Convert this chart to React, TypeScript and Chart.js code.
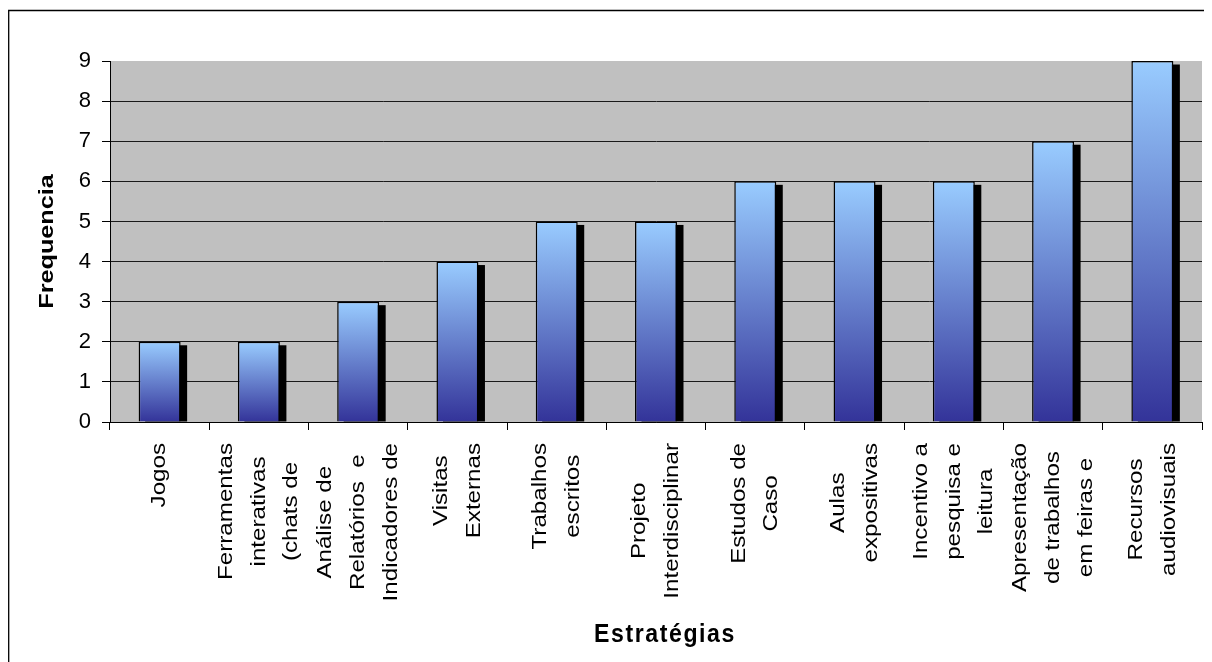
import React, { useEffect, useRef } from "react";
import { Chart, registerables } from "chart.js";

Chart.register(...registerables);

// ---- data ----
const categories: string[][] = [
  ["Jogos"],
  ["Ferramentas", "interativas", "(chats de"],
  ["Análise de", "Relatórios  e", "Indicadores de"],
  ["Visitas", "Externas"],
  ["Trabalhos", "escritos"],
  ["Projeto", "Interdisciplinar"],
  ["Estudos de", "Caso"],
  ["Aulas", "expositivas"],
  ["Incentivo a", "pesquisa e", "leitura"],
  ["Apresentação", "de trabalhos", "em feiras e"],
  ["Recursos", "audiovisuais"],
];
const frequencies: number[] = [2, 2, 3, 4, 5, 5, 6, 6, 6, 7, 9];
const yMin = 0;
const yMax = 9;
const yStep = 1;
const yTitle = "Frequencia";
const xTitle = "Estratégias";

// ---- layout / style ----
const W = 1204;
const H = 654;
const FONT = '"Liberation Sans", Arial, Helvetica, sans-serif';
const STRETCH = 1.15;
const LABEL_TOP = 435;
const LINE_GAP = 32.7;

const decorPlugin = {
  id: "excelDecor",
  beforeDraw(chart: any) {
    const { ctx, chartArea } = chart;
    const { left, top, right, bottom } = chartArea;
    ctx.save();
    ctx.fillStyle = "#ffffff";
    ctx.fillRect(0, 0, W, H);
    ctx.fillStyle = "#C0C0C0";
    ctx.fillRect(left, top, right - left, bottom - top);
    ctx.restore();
  },
  beforeDatasetsDraw(chart: any) {
    const { ctx } = chart;
    const meta = chart.getDatasetMeta(0);
    ctx.save();
    ctx.fillStyle = "#000000";
    meta.data.forEach((el: any) => {
      const { x, y, base, width } = el.getProps(["x", "y", "base", "width"], true);
      ctx.fillRect(x - width / 2 + 6.5, y + 3.5, width, base - y - 3.5);
    });
    ctx.restore();
  },
  afterDraw(chart: any) {
    const { ctx, chartArea } = chart;
    const xs = chart.scales.x;
    ctx.save();
    // clean the area right of the plot
    ctx.fillStyle = "#ffffff";
    ctx.fillRect(chartArea.right + 1, 0, W, chartArea.top);
    ctx.fillRect(chartArea.right + 1, chartArea.top - 1, W, H);
    ctx.fillRect(chartArea.right + 1, 0, W, H);
    // outer border (left + top only are visible)
    ctx.strokeStyle = "#000000";
    ctx.lineWidth = 1.3;
    ctx.beginPath();
    ctx.moveTo(0.7, H + 10);
    ctx.lineTo(0.7, 2.5);
    ctx.lineTo(W + 10, 2.5);
    ctx.stroke();
    // x tick at right edge of the axis
    ctx.strokeStyle = "#000000";
    ctx.lineWidth = 1;
    ctx.beginPath();
    ctx.moveTo(Math.round(chartArea.right) + 0.5, chartArea.bottom);
    ctx.lineTo(Math.round(chartArea.right) + 0.5, chartArea.bottom + 8);
    ctx.stroke();

    ctx.fillStyle = "#000000";
    // category labels
    ctx.font = `21px ${FONT}`;
    ctx.textAlign = "center";
    ctx.textBaseline = "middle";
    categories.forEach((lines, i) => {
      const cx = xs.getPixelForValue(i);
      const widths = lines.map((l) => ctx.measureText(l).width * STRETCH);
      const maxW = Math.max(...widths);
      lines.forEach((line, j) => {
        const lx = cx + (j - (lines.length - 1) / 2) * LINE_GAP;
        const ly = LABEL_TOP + maxW / 2;
        ctx.save();
        ctx.translate(lx, ly);
        ctx.rotate(-Math.PI / 2);
        ctx.scale(STRETCH, 1);
        ctx.fillText(line, 0, 0);
        ctx.restore();
      });
    });
    // y title
    ctx.save();
    ctx.font = `bold 21px ${FONT}`;
    ctx.textAlign = "center";
    ctx.textBaseline = "alphabetic";
    ctx.translate(44.5, (chartArea.top + chartArea.bottom) / 2);
    ctx.rotate(-Math.PI / 2);
    ctx.scale(1.2, 1);
    ctx.fillText(yTitle, 0, 0);
    ctx.restore();
    // x title
    ctx.save();
    ctx.font = `bold 22px ${FONT}`;
    (ctx as any).letterSpacing = "1.5px";
    ctx.textAlign = "center";
    ctx.textBaseline = "alphabetic";
    ctx.translate(657, 634);
    ctx.scale(1.05, 1.2);
    ctx.fillText(xTitle, 0, 0);
    ctx.restore();
    ctx.restore();
  },
};

export default function App() {
  const ref = useRef<HTMLCanvasElement | null>(null);

  useEffect(() => {
    document.body.style.overflow = "hidden";
    if (!ref.current) return;
    const chart = new Chart(ref.current, {
      type: "bar",
      data: {
        labels: categories.map((c) => c.join(" ")),
        datasets: [
          {
            data: frequencies,
            backgroundColor: (c: any) => {
              const ch = c.chart;
              if (!ch.chartArea || c.type !== "data") return "#6688cc";
              const ys = ch.scales.y;
              const t = ys.getPixelForValue(c.raw as number);
              const b = ys.getPixelForValue(0);
              const g = ch.ctx.createLinearGradient(0, t, 0, b);
              g.addColorStop(0, "#99CCFF");
              g.addColorStop(1, "#333399");
              return g;
            },
            borderColor: "#000000",
            borderWidth: 1.5,
            barPercentage: 0.423,
            categoryPercentage: 1,
          },
        ],
      },
      options: {
        responsive: false,
        animation: false,
        devicePixelRatio: 1,
        layout: { padding: { left: 0, top: 53, right: 10, bottom: 0 } },
        plugins: {
          legend: { display: false },
          tooltip: { enabled: false },
        },
        scales: {
          x: {
            afterFit: (s: any) => {
              s.height = 240;
            },
            ticks: { display: false },
            grid: {
              drawOnChartArea: false,
              drawTicks: true,
              tickLength: 8,
              tickColor: "#000000",
              offset: true,
            },
            border: { display: true, color: "#000000", width: 1 },
          },
          y: {
            min: yMin,
            max: yMax,
            afterFit: (s: any) => {
              s.width = 102;
            },
            ticks: {
              stepSize: yStep,
              color: "#000000",
              padding: 11,
              font: { family: FONT, size: 22 },
            },
            grid: {
              color: (c: any) =>
                c.tick && c.tick.value === yMax ? "rgba(0,0,0,0)" : "#1a1a1a",
              tickColor: "#000000",
              tickLength: 8,
              lineWidth: 1,
            },
            border: { display: true, color: "#000000", width: 1 },
          },
        },
      },
      plugins: [decorPlugin],
    });
    return () => chart.destroy();
  }, []);

  return (
    <div style={{ width: W, height: H }}>
      <canvas ref={ref} width={W} height={H} style={{ display: "block", width: W, height: H }} />
    </div>
  );
}
